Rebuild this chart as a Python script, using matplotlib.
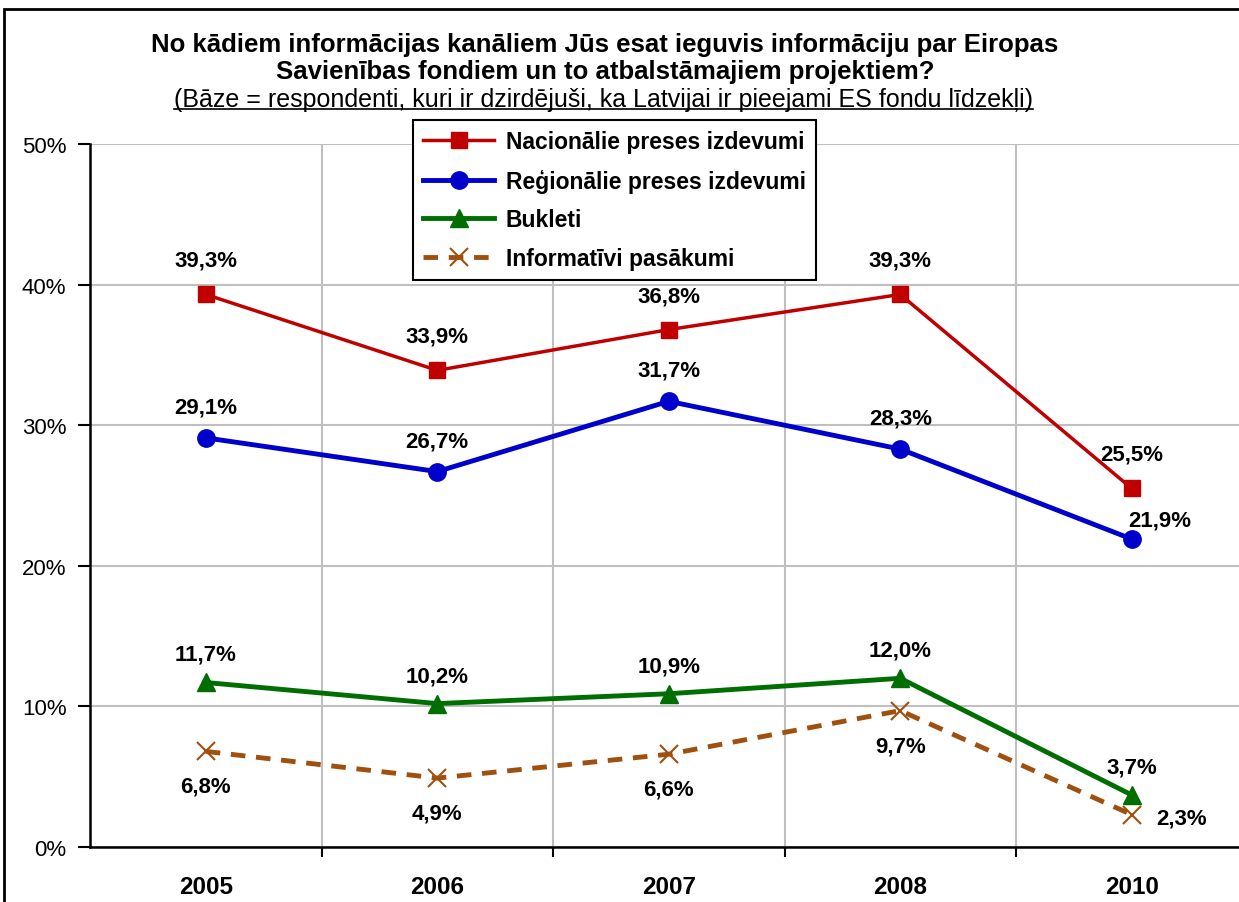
import matplotlib.pyplot as plt
from matplotlib.patches import Rectangle

plt.rcParams['font.family'] = ['Liberation Sans', 'DejaVu Sans']

years = ['2005', '2006', '2007', '2008', '2010']
nacionalie = [39.3, 33.9, 36.8, 39.3, 25.5]
regionalie = [29.1, 26.7, 31.7, 28.3, 21.9]
bukleti = [11.7, 10.2, 10.9, 12.0, 3.7]
informativi = [6.8, 4.9, 6.6, 9.7, 2.3]

names = ['Nacionālie preses izdevumi', 'Reģionālie preses izdevumi',
         'Bukleti', 'Informatīvi pasākumi']

W, H = 1239, 903
fig = plt.figure(figsize=(W / 100, H / 100), dpi=100)
ax = fig.add_axes([90 / W, (H - 848) / H, 1157.5 / W, 703 / H])

# outer chart border (cropped on the right and bottom)
fig.patches.append(Rectangle((4 / W, -0.05), 1.2, (H - 10) / H + 0.05,
                             transform=fig.transFigure, fill=False,
                             edgecolor='black', linewidth=2))

x = list(range(len(years)))

l1, = ax.plot(x, nacionalie, color='#C00000', lw=2.5, marker='s', ms=11,
              label=names[0])
l2, = ax.plot(x, regionalie, color='#0000CC', lw=3.5, marker='o', ms=12.5,
              label=names[1])
l3, = ax.plot(x, bukleti, color='#006E00', lw=3.5, marker='^', ms=12.5,
              label=names[2])
l4, = ax.plot(x, informativi, color='#A0500E', lw=3.5, ls=(0, (3, 2.2)),
              marker='x', ms=13, mew=1.5, label=names[3])

lbl = dict(ha='center', va='center', fontsize=16, fontweight='bold',
           textcoords='offset pixels')


def fmt(v):
    return ('%.1f%%' % v).replace('.', ',')


for i, v in enumerate(nacionalie):
    ax.annotate(fmt(v), (i, v), xytext=(0, 34), **lbl)
for i, v in enumerate(regionalie):
    off = (28, 19) if i == 4 else (0, 31)
    ax.annotate(fmt(v), (i, v), xytext=off, **lbl)
for i, v in enumerate(bukleti):
    ax.annotate(fmt(v), (i, v), xytext=(0, 28), **lbl)
for i, v in enumerate(informativi):
    off = (50, -3) if i == 4 else (0, -35)
    ax.annotate(fmt(v), (i, v), xytext=off, **lbl)

ax.set_xlim(-0.5, 4.5)
ax.set_ylim(0, 50)

ax.set_yticks(range(0, 51, 10))
ax.set_yticklabels(['%d%%' % t for t in range(0, 51, 10)], fontsize=16)
ax.set_xticks([0.5, 1.5, 2.5, 3.5, 4.5])
ax.set_xticklabels([])
ax.set_xticks(x, minor=True)
ax.set_xticklabels(years, minor=True, fontsize=17.5, fontweight='bold')
ax.tick_params(axis='x', which='minor', length=0, pad=20)
ax.tick_params(axis='x', which='major', length=7, width=1.5, direction='out')
ax.tick_params(axis='y', length=9, width=1.5, direction='out', pad=8)

ax.grid(True, which='major', color='#BFBFBF', lw=1.5)
ax.set_axisbelow(True)
for s in ['top', 'right']:
    ax.spines[s].set_visible(False)
for s in ['left', 'bottom']:
    ax.spines[s].set_linewidth(1.8)

leg = ax.legend(handles=[l1, l2, l3, l4], loc='upper left',
                bbox_to_anchor=(413 / W, 1 - 121 / H), bbox_transform=fig.transFigure,
                prop={'weight': 'bold', 'size': 16.5}, frameon=True, fancybox=False,
                edgecolor='black', framealpha=1, handlelength=3.1,
                handletextpad=0.5, borderpad=0.45, labelspacing=0.68,
                borderaxespad=0)
leg.get_frame().set_linewidth(1.5)

fig.text(605 / W, 1 - 45 / H,
         'No kādiem informācijas kanāliem Jūs esat ieguvis informāciju par Eiropas',
         ha='center', va='center', fontsize=18.5, fontweight='bold')
fig.text(605 / W, 1 - 72 / H,
         'Savienības fondiem un to atbalstāmajiem projektiem?',
         ha='center', va='center', fontsize=18.5, fontweight='bold')
sub = fig.text(603 / W, 1 - 100 / H,
               '(Bāze = respondenti, kuri ir dzirdējuši, ka Latvijai ir pieejami ES fondu līdzekļi)',
               ha='center', va='center', fontsize=18)

# underline the subtitle
fig.canvas.draw()
bb = sub.get_window_extent(renderer=fig.canvas.get_renderer())
fig.add_artist(plt.Line2D([bb.x0 / W, bb.x1 / W], [(bb.y0 + 2) / H, (bb.y0 + 2) / H],
                          transform=fig.transFigure, color='black', lw=1.2))

fig.savefig('out.png', dpi=100)
